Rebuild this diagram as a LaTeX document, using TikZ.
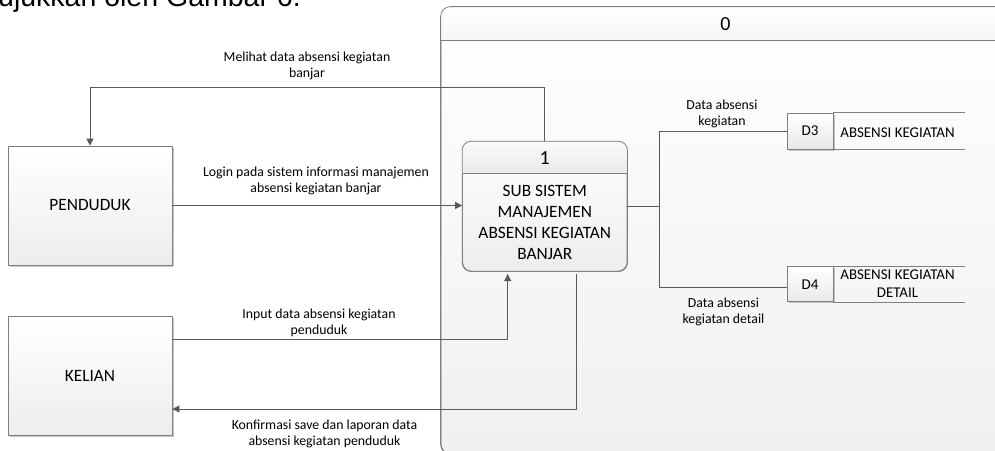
\documentclass[tikz,border=0pt]{standalone}
\usepackage{fontspec}
\setmainfont{Carlito}
\newfontfamily\docfont{Liberation Sans}
\usetikzlibrary{arrows.meta,shadows,calc}
\definecolor{linec}{HTML}{595959}
\definecolor{borderc}{HTML}{7F7F7F}
\begin{document}
\begin{tikzpicture}[x=1pt,y=-1pt,
  lbl/.style={font=\fontsize{13.8}{16}\selectfont, align=center, inner sep=0pt},
  flow/.style={draw=linec, line width=1pt, -{Triangle[length=7pt,width=7pt]}},
  plain/.style={draw=linec, line width=1pt},
  frame/.style={draw=borderc, line width=0.8pt},
  shad/.style={drop shadow={shadow xshift=1.5pt, shadow yshift=-1.5pt, opacity=0.4, fill=black!55}},
  entity/.style={frame, shad, minimum width=164pt, minimum height=119pt, inner sep=0pt,
    top color=white, bottom color=black!7, font=\fontsize{17.3}{21}\selectfont},
  storenum/.style={frame, shad, minimum width=46pt, inner sep=0pt,
    top color=white, bottom color=black!9, font=\fontsize{15}{18}\selectfont},
  storetext/.style={font=\fontsize{14.9}{18}\selectfont, align=center, inner sep=0pt}
]
\useasboundingbox (0,0) rectangle (995,450);
\clip (0,0) rectangle (995,450);

% cropped document text at the top
\node[anchor=base west, font=\docfont\fontsize{28.5}{32}\selectfont, inner sep=0pt] (doc) at (-2,6.5) {ujukkan oleh Gambar 6.};

% context container "0"
\node[frame, rounded corners=10pt, minimum width=569pt, minimum height=447pt, inner sep=0pt,
  top color=white, bottom color=black!6] (ctx) at (725.5,230.5) {};
\coordinate (hl) at (0,40);
\begin{scope}
  \clip[rounded corners=10pt] (ctx.north west) rectangle (ctx.south east);
  \shade[top color=white, bottom color=black!4] (ctx.north west) rectangle (ctx.east |- hl);
\end{scope}
\draw[frame, rounded corners=10pt] (ctx.north west) rectangle (ctx.south east);
\draw[frame] (ctx.west |- hl) -- (ctx.east |- hl);
\node[font=\fontsize{20}{24}\selectfont, inner sep=0pt] (ctxnum) at (725.5,24.5) {0};

% process 1
\node[frame, rounded corners=9pt, minimum width=164.5pt, minimum height=129.5pt, inner sep=0pt,
  top color=white, bottom color=black!7] (p) at (544.8,206.4) {};
\coordinate (hp) at (0,173);
\begin{scope}
  \clip[rounded corners=9pt] (p.north west) rectangle (p.south east);
  \shade[top color=black!2, bottom color=black!8] (p.north west) rectangle (p.east |- hp);
\end{scope}
\draw[frame, rounded corners=9pt] (p.north west) rectangle (p.south east);
\draw[frame] (p.west |- hp) -- (p.east |- hp);
\node[font=\fontsize{20}{24}\selectfont, inner sep=0pt] (pnum) at (544.8,158.5) {1};
\node[font=\fontsize{17.3}{21.2}\selectfont, align=center, inner sep=0pt] (ptext) at (544.8,222.5)
  {SUB SISTEM\\MANAJEMEN\\ABSENSI KEGIATAN\\BANJAR};

% external entities
\node[entity] (pend) at (90,205.5) {PENDUDUK};
\node[entity] (kel) at (90,375.5) {KELIAN};

% data stores
\node[storenum, minimum height=36pt] (d3) at (810,131) {D3};
\draw[frame] (d3.north east) -- ++(132,0);
\draw[frame] (d3.south east) -- ++(132,0);
\node[storetext] (d3t) at (897.5,132.5) {ABSENSI KEGIATAN};

\node[storenum, minimum height=35pt] (d4) at (810,284.2) {D4};
\draw[frame] (d4.north east) -- ++(132,0);
\draw[frame] (d4.south east) -- ++(132,0);
\node[storetext] (d4t) at (897.5,283.8) {ABSENSI KEGIATAN\\DETAIL};

% connectors
\coordinate (j) at (659,206.4);
\draw[plain] (p.east) -- (j) |- (d3.west);
\draw[plain] (j) |- ([yshift=-3.4pt]d4.west);

\coordinate (m1) at (544.8,87);
\draw[flow] (p.north) -- (m1) -| (pend.north);
\draw[flow] (pend.east) -- (pend.east -| p.west);
\coordinate (m2) at (507.7,339);
\draw[flow, shorten >=2.5pt] (kel.east |- m2) -- (m2) -- (m2 |- p.south);
\coordinate (m3) at (576,409);
\draw[flow, shorten <=2pt] (m3 |- p.south) -- (m3) -- (kel.east |- m3);

% labels
\node[lbl] (l1) at (307,65.5) {Melihat data absensi kegiatan\\banjar};
\node[lbl] (l2) at (316,180.5) {Login pada sistem informasi manajemen\\absensi kegiatan banjar};
\node[lbl] (l3) at (319,323) {Input data absensi kegiatan\\penduduk};
\node[lbl] (l4) at (324.5,433.5) {Konfirmasi save dan laporan data\\absensi kegiatan penduduk};
\node[lbl] (l5) at (722,114) {Data absensi\\kegiatan};
\node[lbl] (l6) at (723.5,311.5) {Data absensi\\kegiatan detail};
\end{tikzpicture}
\end{document}
